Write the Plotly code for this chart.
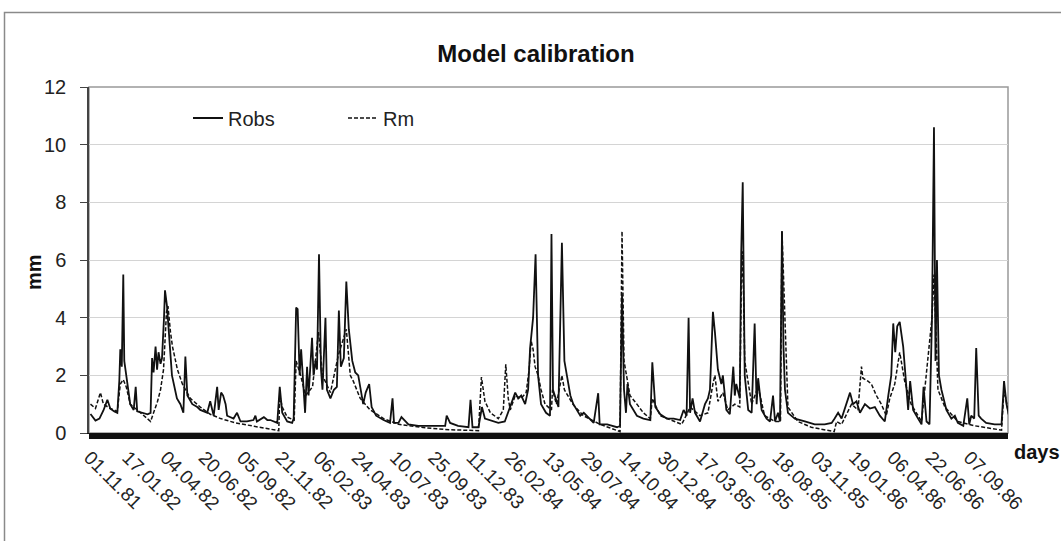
import pandas as pd
import plotly.graph_objects as go

start_date = "1981-11-01"

# Observed runoff (Robs): day offset from start, value in mm
robs_day = [2, 12, 20, 28, 36, 42, 50, 56, 60, 62, 65, 68, 70, 76, 82, 89, 93, 96, 109, 117,
            123, 126, 129, 133, 136, 139, 143, 146, 150, 152, 156, 160, 166, 176, 183, 189, 193, 197, 207, 217,
            223, 237, 243, 250, 257, 260, 265, 269, 274, 277, 290, 297, 304, 317, 330, 334, 337, 351, 358, 364,
            378, 383, 388, 398, 408, 411, 416, 419, 423, 426, 430, 434, 438, 441, 448, 451, 455, 458, 462, 466,
            469, 475, 478, 485, 492, 498, 502, 506, 512, 517, 522, 529, 535, 541, 545, 551, 556, 563, 568, 577,
            592, 605, 610, 613, 622, 628, 642, 662, 688, 716, 719, 726, 742, 763, 767, 771, 783, 790, 796, 823,
            836, 846, 857, 863, 869, 877, 883, 887, 893, 898, 901, 903, 909, 919, 927, 930, 933, 944, 951, 956,
            961, 968, 974, 988, 995, 1001, 1015, 1024, 1027, 1042, 1062, 1068, 1072, 1076, 1080, 1083, 1088, 1102, 1115, 1129,
            1133, 1139, 1149, 1162, 1176, 1189, 1196, 1202, 1206, 1209, 1214, 1219, 1229, 1239, 1245, 1249, 1255, 1259, 1265, 1272,
            1275, 1282, 1289, 1296, 1299, 1302, 1309, 1312, 1315, 1319, 1326, 1333, 1339, 1343, 1346, 1353, 1363, 1370, 1376, 1380,
            1386, 1390, 1394, 1397, 1400, 1406, 1420, 1440, 1460, 1480, 1494, 1500, 1507, 1514, 1520, 1531, 1537, 1544, 1551, 1561,
            1571, 1581, 1591, 1601, 1608, 1614, 1618, 1622, 1626, 1631, 1638, 1644, 1648, 1652, 1658, 1668, 1675, 1679, 1685, 1691,
            1696, 1700, 1703, 1706, 1710, 1715, 1725, 1735, 1742, 1748, 1759, 1767, 1771, 1775, 1781, 1785, 1790, 1795, 1805, 1822,
            1836, 1841, 1846, 1851]
robs_val = [0.66, 0.43, 0.5, 0.78, 1.15, 0.84, 0.75, 0.7, 1.8, 2.9, 2.3, 5.5, 2.5, 1.7, 1.0, 0.8, 1.6, 0.75, 0.7, 0.65,
            0.7, 2.6, 2.1, 3.0, 2.2, 2.8, 2.4, 2.6, 4.0, 4.95, 4.4, 3.5, 2.0, 1.2, 1.0, 0.7, 2.65, 1.3, 1.0, 0.9,
            0.8, 0.7, 1.1, 0.6, 1.6, 0.8, 1.4, 1.3, 1.0, 0.6, 0.5, 0.7, 0.4, 0.4, 0.45, 0.6, 0.4, 0.55, 0.45, 0.45,
            0.35, 1.6, 0.7, 0.4, 0.35, 0.5, 4.35, 4.3, 2.0, 2.9, 1.8, 0.7, 2.3, 1.3, 3.3, 2.0, 2.5, 2.2, 6.2, 2.2,
            1.5, 4.0, 1.5, 1.2, 1.5, 1.6, 4.25, 2.3, 2.6, 5.25, 3.6, 2.5, 2.1, 2.0, 1.6, 1.0, 1.4, 1.7, 0.9, 0.6,
            0.45, 0.35, 1.2, 0.35, 0.35, 0.55, 0.3, 0.25, 0.25, 0.25, 0.6, 0.35, 0.25, 0.2, 1.15, 0.2, 0.2, 0.9, 0.5, 0.35,
            0.4, 0.9, 1.4, 1.2, 1.3, 1.0, 1.5, 2.95, 4.0, 6.2, 3.5, 2.0, 1.0, 0.7, 0.6, 6.9, 1.5, 0.9, 6.6, 2.5,
            2.0, 1.3, 1.0, 0.6, 0.7, 0.6, 0.35, 1.38, 0.3, 0.3, 0.2, 0.25, 4.8, 1.5, 0.7, 1.7, 1.0, 0.6, 0.5, 0.45,
            2.45, 0.9, 0.65, 0.5, 0.5, 0.45, 0.8, 0.6, 4.0, 0.7, 1.2, 0.7, 0.4, 1.0, 1.2, 1.5, 4.2, 3.5, 2.2, 1.7,
            2.0, 0.8, 0.65, 2.3, 1.3, 1.7, 1.2, 6.3, 8.7, 2.0, 0.8, 0.7, 3.8, 1.0, 1.9, 0.8, 0.5, 0.4, 1.3, 0.4,
            0.7, 0.4, 7.0, 3.0, 1.5, 0.7, 0.5, 0.4, 0.3, 0.3, 0.35, 0.5, 0.7, 0.5, 0.8, 1.4, 1.0, 1.1, 0.7, 1.0,
            0.85, 0.9, 0.6, 0.4, 1.3, 2.0, 3.8, 2.8, 3.7, 3.85, 3.0, 1.5, 0.8, 1.8, 0.8, 0.5, 0.3, 1.6, 0.4, 0.3,
            4.0, 10.6, 2.5, 6.0, 2.0, 1.5, 0.8, 0.5, 0.6, 0.35, 0.25, 1.2, 0.3, 0.6, 0.5, 2.95, 0.6, 0.5, 0.35, 0.3,
            0.3, 1.8, 1.0, 0.6]

# Modelled runoff (Rm)
rm_day = [2, 12, 22, 28, 42, 56, 62, 68, 74, 82, 103, 123, 127, 137, 143, 149, 155, 158, 163, 167,
          177, 187, 203, 223, 243, 264, 294, 324, 354, 381, 383, 388, 398, 412, 416, 425, 435, 449, 461, 469,
          485, 501, 517, 525, 531, 545, 565, 592, 622, 666, 716, 767, 783, 789, 796, 807, 823, 833, 838, 843,
          847, 857, 869, 879, 885, 889, 893, 897, 903, 909, 917, 930, 932, 940, 951, 956, 973, 994, 1028, 1068,
          1072, 1076, 1083, 1088, 1102, 1115, 1129, 1133, 1149, 1182, 1192, 1201, 1209, 1229, 1245, 1255, 1259, 1265, 1275, 1285,
          1299, 1309, 1312, 1315, 1319, 1333, 1346, 1359, 1380, 1391, 1394, 1406, 1426, 1453, 1480, 1499, 1504, 1514, 1534, 1547,
          1554, 1557, 1567, 1574, 1584, 1594, 1604, 1611, 1621, 1626, 1631, 1641, 1654, 1675, 1696, 1700, 1708, 1722, 1748, 1782,
          1815, 1836, 1841, 1851]
rm_val = [1.0, 0.85, 1.4, 1.0, 0.85, 0.75, 1.7, 1.85, 1.6, 1.0, 0.7, 0.4, 0.6, 1.1, 1.5, 2.2, 4.2, 4.4, 3.5, 3.0,
          2.2, 1.7, 1.2, 0.9, 0.65, 0.5, 0.35, 0.25, 0.15, 0.08, 1.3, 0.9, 0.55, 0.45, 2.5, 2.0, 1.3, 1.6, 3.5, 2.0,
          1.4, 2.7, 3.6, 2.0, 1.8, 1.2, 0.8, 0.5, 0.3, 0.2, 0.12, 0.1, 0.08, 1.94, 1.1, 0.7, 0.5, 0.8, 2.38, 1.2,
          0.8, 1.3, 1.2, 1.4, 2.2, 3.2, 2.9, 2.3, 2.0, 1.5, 1.0, 0.8, 1.5, 1.0, 2.0, 1.5, 1.0, 0.6, 0.3, 0.05,
          7.0, 2.5, 1.8, 1.3, 1.0, 0.7, 0.5, 1.2, 0.6, 0.35, 0.3, 0.6, 0.9, 0.6, 0.7, 1.7, 2.0, 1.1, 1.4, 0.8,
          1.0, 0.9, 5.0, 6.3, 2.5, 1.0, 1.6, 0.6, 0.4, 0.4, 7.0, 0.9, 0.4, 0.2, 0.1, 0.05, 0.4, 0.3, 1.0, 0.8,
          2.3, 1.9, 1.8, 1.7, 1.3, 1.0, 0.6, 1.2, 1.7, 2.3, 2.8, 1.8, 1.0, 0.4, 4.0, 5.5, 1.5, 0.9, 0.4, 0.25,
          0.15, 0.1, 1.5, 0.6]

tick_labels = ["01.11.81", "17.01.82", "04.04.82", "20.06.82", "05.09.82", "21.11.82", "06.02.83",
               "24.04.83", "10.07.83", "25.09.83", "11.12.83", "26.02.84", "13.05.84", "29.07.84",
               "14.10.84", "30.12.84", "17.03.85", "02.06.85", "18.08.85", "03.11.85", "19.01.86",
               "06.04.86", "22.06.86", "07.09.86"]

t0 = pd.Timestamp(start_date)
robs_x = t0 + pd.to_timedelta(robs_day, unit="D")
rm_x = t0 + pd.to_timedelta(rm_day, unit="D")
tick_vals = pd.to_datetime(tick_labels, format="%d.%m.%y")

FONT = "Liberation Sans, Arial, sans-serif"

fig = go.Figure()
fig.add_trace(go.Scatter(x=robs_x, y=robs_val, mode="lines", name="Robs",
                         line=dict(color="#111111", width=1.8)))
fig.add_trace(go.Scatter(x=rm_x, y=rm_val, mode="lines", name="Rm",
                         line=dict(color="#111111", width=1.5, dash="4px,2px")))

fig.update_layout(
    width=1061, height=541,
    margin=dict(l=89, r=53, t=87, b=108, autoexpand=False),
    paper_bgcolor="white", plot_bgcolor="white",
    font=dict(family=FONT, color="#222222"),
    title=dict(text="<b>Model calibration</b>", x=536 / 1061, xref="container", xanchor="center",
               y=1 - 54 / 541, yref="container", yanchor="middle",
               font=dict(size=24, family=FONT, color="#111111")),
    showlegend=True,
    legend=dict(orientation="h", x=(188 - 89) / 919, y=(433 - 118) / 346, xanchor="left", yanchor="middle",
                bgcolor="rgba(0,0,0,0)", font=dict(size=20, family=FONT, color="#222222"),
                entrywidth=110, entrywidthmode="pixels"),
    xaxis=dict(
        type="date",
        range=[t0 - pd.Timedelta(days=1), t0 + pd.Timedelta(days=1849)],
        tickmode="array", tickvals=tick_vals, ticktext=tick_labels,
        tickangle=45, tickfont=dict(size=19, family=FONT, color="#222222"),
        ticks="outside", ticklen=5, tickcolor="#111111", tickwidth=1,
        showgrid=False, zeroline=False,
        showline=True, linecolor="#111111", linewidth=1,
        minor=dict(ticks="outside", ticklen=5, tickcolor="#111111", tickwidth=1.3,
                   dtick=2 * 86400000, tick0=start_date, showgrid=False),
    ),
    yaxis=dict(
        range=[0, 12], tickmode="linear", tick0=0, dtick=2,
        tickfont=dict(size=20, family=FONT, color="#222222"),
        ticks="outside", ticklen=7, tickcolor="#444444", ticklabelstandoff=10,
        showgrid=True, gridcolor="#d4d4d4", gridwidth=1,
        zeroline=False, showline=True, linecolor="#444444", linewidth=1.5,
    ),
    shapes=[
        dict(type="rect", xref="paper", yref="paper", x0=0, x1=1, y0=0, y1=1,
             line=dict(color="#999999", width=1.5), layer="below"),
        dict(type="rect", xref="paper", yref="paper", x0=(4.5 - 89) / 919, x1=1.2,
             y0=-0.5, y1=(433 - 12.5) / 346, line=dict(color="#8a8a8a", width=1.5), layer="below"),
    ],
    annotations=[
        dict(text="<b>mm</b>", xref="paper", yref="paper", x=(34 - 89) / 919, y=(433 - 272) / 346,
             xanchor="center", yanchor="middle", textangle=-90, showarrow=False,
             font=dict(size=20, family=FONT, color="#111111")),
        dict(text="<b>days</b>", xref="paper", yref="paper", x=(1012 - 89) / 919, y=(433 - 452) / 346,
             xanchor="left", yanchor="middle", showarrow=False,
             font=dict(size=20, family=FONT, color="#111111")),
    ],
)

fig.write_html("out.html", post_script="document.body.style.margin='0px';",
               config={"displayModeBar": False})
